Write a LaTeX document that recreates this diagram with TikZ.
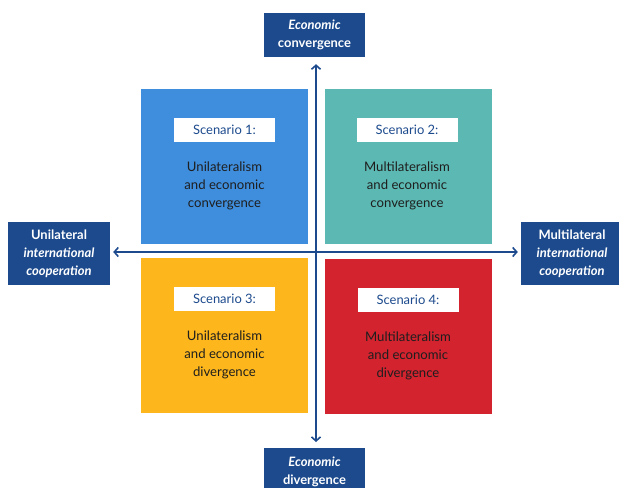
\documentclass[tikz,border=0pt]{standalone}
\usepackage{fontspec}
\setmainfont{Lato}
\usetikzlibrary{arrows.meta}
\definecolor{navy}{HTML}{1C4A8D}
\definecolor{qblue}{HTML}{3F8EDD}
\definecolor{qteal}{HTML}{5CB8B2}
\definecolor{qyellow}{HTML}{FDB71C}
\definecolor{qred}{HTML}{D2232F}
\definecolor{bodytxt}{HTML}{1E1E1E}
\begin{document}
\begin{tikzpicture}[x=1bp,y=-1bp,
  quad/.style={minimum width=167bp,minimum height=155bp,inner sep=0pt},
  sclabel/.style={fill=white,minimum width=101bp,minimum height=24bp,inner sep=0pt,text=navy,font=\fontsize{13}{14}\selectfont},
  body/.style={align=center,text=bodytxt,font=\fontsize{13.2}{18}\selectfont},
  axlabel/.style={fill=navy,text=white,align=center,inner sep=0pt,font=\bfseries\fontsize{13}{18}\selectfont},
  axis/.style={navy,line width=2.2bp,-{Straight Barb[length=4bp,width=9bp,line width=1.6bp]}}
]
\useasboundingbox (0,0) rectangle (619,488);
% quadrants
\node[quad,fill=qblue]   (q1) at (224.5,166.5) {};
\node[quad,fill=qteal]   (q2) at (408,166.5) {};
\node[quad,fill=qyellow] (q3) at (224.5,335.5) {};
\node[quad,fill=qred]    (q4) at (408.5,336.5) {};
% scenario labels
\node[sclabel] (s1) at (224.5,130) {Scenario 1:};
\node[sclabel] (s2) at (407,130) {Scenario 2:};
\node[sclabel] (s3) at (224.5,298.5) {Scenario 3:};
\node[sclabel] (s4) at (408,299.5) {Scenario 4:};
% body texts
\node[body] (b1) at (224.5,186) {Unilateralism\\and economic\\convergence};
\node[body] (b2) at (407,186) {Multilateralism\\and economic\\convergence};
\node[body] (b3) at (224.5,355) {Unilateralism\\and economic\\divergence};
\node[body] (b4) at (408,356) {Multilateralism\\and economic\\divergence};
% axis labels
\node[axlabel,minimum width=101bp,minimum height=44bp] (top) at (314.5,35) {\itshape Economic\\convergence};
\node[axlabel,minimum width=101bp,minimum height=48bp,anchor=north] (bot) at (314.5,448) {\itshape Economic\\divergence};
\node[axlabel,minimum width=102bp,minimum height=63bp] (left) at (59,253.5) {Unilateral\\\itshape international\\\itshape cooperation};
\node[axlabel,minimum width=102bp,minimum height=63bp] (right) at (572,253.5) {Multilateral\\\itshape international\\\itshape cooperation};
% axes
\coordinate (c) at (316,252);
\draw[axis,shorten >=7bp] (c) -- (c |- top.south);
\draw[axis,shorten >=6bp] (c) -- (c |- bot.north);
\draw[axis,shorten >=3bp] (c) -- (left.east |- c);
\draw[axis,shorten >=3bp] (c) -- (right.west |- c);
\end{tikzpicture}
\end{document}
